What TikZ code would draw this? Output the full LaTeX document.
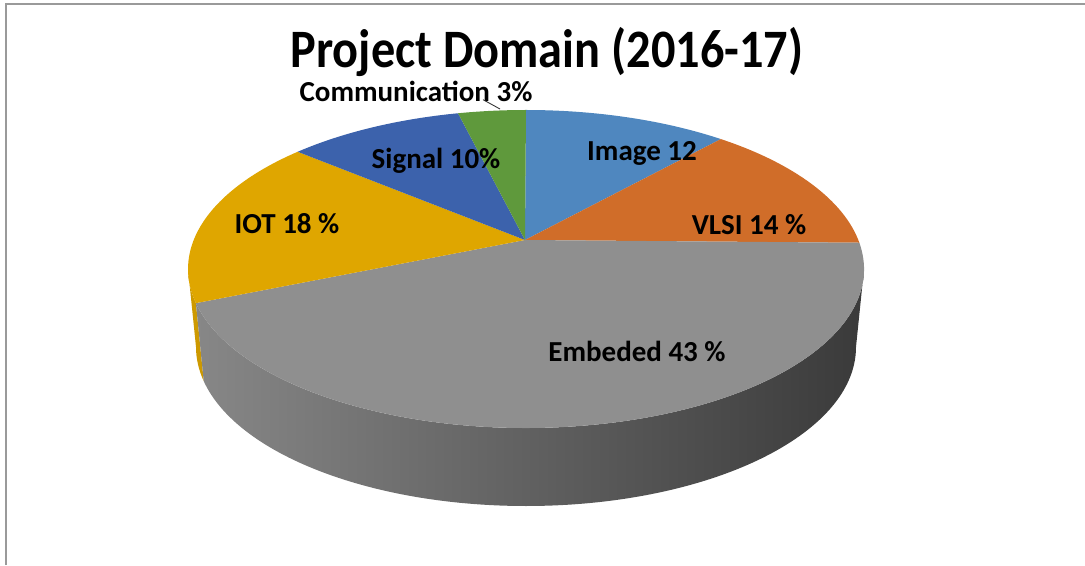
\documentclass[tikz,border=0pt]{standalone}
\usepackage{fontspec}
\setmainfont{Carlito}
\usetikzlibrary{calc}
\definecolor{imgblue}{HTML}{4F87BF}
\definecolor{vlsiorange}{HTML}{D06D29}
\definecolor{embgray}{HTML}{8F8F8F}
\definecolor{iotyellow}{HTML}{DFA600}
\definecolor{sigblue}{HTML}{3C62AC}
\definecolor{comgreen}{HTML}{5F993C}
\definecolor{sideL}{HTML}{878787}
\definecolor{sideM}{HTML}{4E4E4E}
\definecolor{sideR}{HTML}{3A3A3A}
\definecolor{framegray}{HTML}{9A9A9A}
% top face slice: start angle, end angle, colour
\newcommand{\pieslice}[3]{%
\fill[#3] (o) -- ([shift={(#1:338 and 159)}]c)
  arc[start angle=#1, end angle=#2, x radius=338, y radius=159] -- cycle;}

\begin{document}
\begin{tikzpicture}[x=0.02cm,y=0.02cm]
\tikzstyle{every node}=[inner sep=0pt]
\tikzstyle{lbl}=[font=\bfseries\fontsize{16.5}{18}\selectfont]
\useasboundingbox (0,0) rectangle (1085,565);
\draw[framegray, line width=1pt] (6,0) -- (6,561) -- (1085,561);
\coordinate (c) at (526,296);
\coordinate (cb) at (526,218);
\coordinate (o) at (525,325);
% side walls
\fill[iotyellow!92!black] ([shift={(180:338 and 159)}]c)
  arc[start angle=180, end angle=192.4, x radius=338, y radius=159]
  -- ([shift={(192.4:330 and 159)}]cb)
  arc[start angle=192.4, end angle=180, x radius=330, y radius=159] -- cycle;
\shade[left color=sideL, middle color=sideM, right color=sideR]
  ([shift={(192.4:338 and 159)}]c)
  arc[start angle=192.4, end angle=360, x radius=338, y radius=159]
  -- ([shift={(0:330 and 159)}]cb)
  arc[start angle=360, end angle=192.4, x radius=330, y radius=159] -- cycle;
% top face
\pieslice{90}{54.8}{imgblue}
\pieslice{54.8}{9.5}{vlsiorange}
\pieslice{9.5}{-167.6}{embgray}
\pieslice{192.4}{132.5}{iotyellow}
\pieslice{132.5}{101.6}{sigblue}
\pieslice{101.6}{90}{comgreen}
\node[font=\bfseries\fontsize{27.5}{30}\selectfont, anchor=base] (title) at (547,497)
  {\scalebox{1}[1.12]{Project Domain (2016-17)}};
\node[lbl] (comm) at (416,474) {Communication 3\%};
\node[lbl] (image) at (642,412) {Image 12};
\node[lbl] (vlsi) at (749,340) {VLSI 14 \%};
\node[lbl] (signal) at (436,404) {Signal 10\%};
\node[lbl] (iot) at (287,341) {IOT 18 \%};
\node[lbl] (embeded) at (637,214) {Embeded 43 \%};
\coordinate (commtip) at (500,456);
\draw[black!80, line width=0.5pt] ($(comm.south)+(67,2)$) -- (commtip);
\end{tikzpicture}
\end{document}
